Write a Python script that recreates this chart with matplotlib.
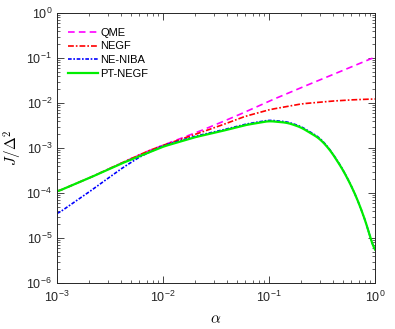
import numpy as np
import matplotlib
matplotlib.use("Agg")
import matplotlib.pyplot as plt
from matplotlib.ticker import LogLocator, LogFormatterSciNotation, NullFormatter

plt.rcParams['font.family'] = ['Liberation Sans', 'DejaVu Sans']

# values (log10 of J/Delta^2)
alpha_qme = [1e-3, 2e-3, 4e-3, 7e-3, 1e-2, 2e-2, 3e-2, 5e-2, 0.1, 0.2, 0.4, 0.7, 1.0]
logj_qme = [-3.97, -3.67, -3.34, -3.08, -2.94, -2.67, -2.50, -2.28, -1.96, -1.66, -1.37, -1.13, -0.98]

alpha_negf = [1e-3, 2e-3, 4e-3, 7e-3, 1e-2, 2e-2, 3.6e-2, 5.7e-2, 0.1, 0.2, 0.38, 0.6, 1.0]
logj_negf = [-3.97, -3.67, -3.34, -3.08, -2.94, -2.70, -2.49, -2.31, -2.15, -2.02, -1.96, -1.93, -1.91]

alpha_niba = [1e-3, 1.5e-3, 2e-3, 3e-3, 4.1e-3, 6e-3, 7.5e-3, 1e-2, 2e-2, 3.5e-2, 6e-2, 0.1, 0.15,
              0.2, 0.3, 0.376, 0.5, 0.624, 0.748, 0.865, 1.0]
logj_niba = [-4.47, -4.18, -3.98, -3.68, -3.45, -3.20, -3.09, -2.95, -2.74, -2.61, -2.47, -2.38, -2.42,
             -2.52, -2.77, -3.03, -3.48, -3.93, -4.38, -4.82, -5.35]

alpha_pt = [1e-3, 2e-3, 4.1e-3, 7.5e-3, 1e-2, 2e-2, 3.5e-2, 6e-2, 0.1, 0.15, 0.2, 0.3,
            0.376, 0.5, 0.624, 0.748, 0.865, 1.0]
logj_pt = [-3.97, -3.67, -3.34, -3.09, -2.97, -2.76, -2.63, -2.49, -2.40, -2.44, -2.54, -2.79,
           -3.04, -3.49, -3.93, -4.38, -4.82, -5.35]


def smooth(a, lj, n=300):
    """Interpolate in log space and lightly smooth so the curves look continuous."""
    la = np.log10(a)
    grid = np.linspace(la[0], la[-1], n)
    vals = np.interp(grid, la, lj)
    k = 9
    pad = np.pad(vals, k // 2, mode='edge')
    vals = np.convolve(pad, np.ones(k) / k, mode='valid')
    return 10 ** grid, 10 ** vals


fig = plt.figure(figsize=(3.95, 3.29), dpi=100)
ax = fig.add_axes([57 / 395, 1 - 283 / 329, 318 / 395, 270 / 329])

x, y = smooth(alpha_qme, logj_qme)
ax.plot(x, y, color='#ff00ff', lw=1.2, dashes=(4, 2.5), label='QME')
x, y = smooth(alpha_negf, logj_negf)
ax.plot(x, y, color='#ff0000', lw=1.2, dashes=(3.5, 1.2, 1, 1.2), label='NEGF')
x, y = smooth(alpha_niba, logj_niba)
ax.plot(x, y, color='#0000ff', lw=1.2, dashes=(2.2, 1, 1, 1), label='NE-NIBA')
x, y = smooth(alpha_pt, logj_pt)
ax.plot(x, y, color='#00ee00', lw=1.6, label='PT-NEGF')

ax.set_xscale('log')
ax.set_yscale('log')
ax.set_xlim(1e-3, 1)
ax.set_ylim(1e-6, 1)

ax.xaxis.set_major_locator(LogLocator(base=10, numticks=10))
ax.yaxis.set_major_locator(LogLocator(base=10, numticks=10))
ax.xaxis.set_minor_locator(LogLocator(base=10, subs=np.arange(2, 10), numticks=20))
ax.yaxis.set_minor_locator(LogLocator(base=10, subs=np.arange(2, 10), numticks=20))
ax.xaxis.set_major_formatter(LogFormatterSciNotation())
ax.yaxis.set_major_formatter(LogFormatterSciNotation())
ax.xaxis.set_minor_formatter(NullFormatter())
ax.yaxis.set_minor_formatter(NullFormatter())

ax.tick_params(which='both', direction='in', top=True, right=True, colors='#262626',
               labelcolor='#262626', labelsize=9)
ax.tick_params(which='major', length=5, width=0.6)
ax.tick_params(which='minor', length=2.5, width=0.5)
ax.tick_params(axis='x', pad=5)
for s in ax.spines.values():
    s.set_color('#262626')
    s.set_linewidth(0.7)

ax.set_xlabel(r'$\alpha$', fontsize=11, math_fontfamily='cm', labelpad=5)
ax.set_ylabel(r'$J/\Delta^2$', fontsize=11, math_fontfamily='cm', labelpad=2)

ax.legend(loc='upper left', bbox_to_anchor=(0.01, 0.975), frameon=False, fontsize=8,
          handlelength=2.7, handletextpad=0.2, labelspacing=0.35, borderaxespad=0.3)

fig.savefig('out.png', dpi=100)
